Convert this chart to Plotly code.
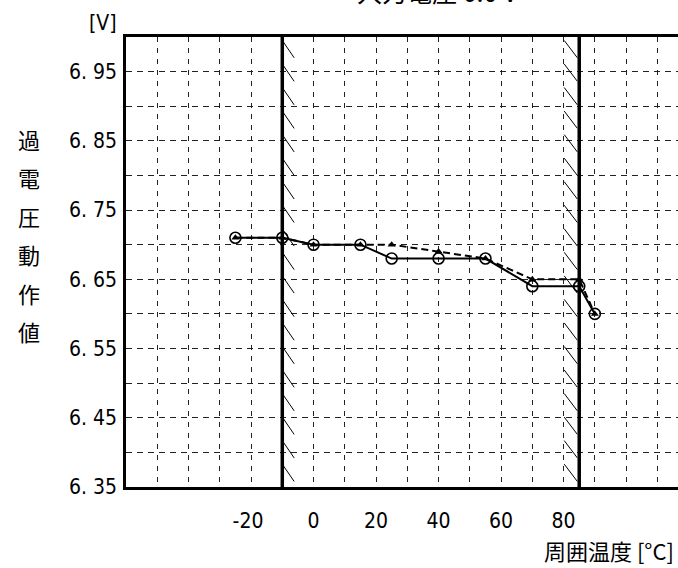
import plotly.graph_objects as go

# ---- data ----
temp_a = [-25, -10, 0, 15, 25, 40, 55, 70, 85, 90]
volt_a = [6.71, 6.71, 6.70, 6.70, 6.68, 6.68, 6.68, 6.64, 6.64, 6.60]

temp_b = [-25, -10, 0, 15, 25, 40, 55, 70, 85, 90]
volt_b = [6.71, 6.71, 6.70, 6.70, 6.70, 6.69, 6.68, 6.65, 6.65, 6.60]

x_grid_vals = [-50, -40, -30, -20, 0, 10, 20, 30, 40, 50, 60, 70, 80, 90, 100, 110]
x_tick_labels = {-20: "-20\u00a0", 0: "0", 20: "20", 40: "40", 60: "60", 80: "80"}
y_grid_vals = [6.35, 6.40, 6.45, 6.50, 6.55, 6.60, 6.65, 6.70, 6.75, 6.80, 6.85, 6.90, 6.95]
y_tick_labels = {6.35: "6. 35", 6.45: "6. 45", 6.55: "6. 55", 6.65: "6. 65",
                 6.75: "6. 75", 6.85: "6. 85", 6.95: "6. 95"}

limit_lines = [-10, 85]
hatch_bands = [(-10, -6.2), (80.2, 84.4)]

y_title_chars = ["過", "電", "圧", "動", "作", "値"]

X_RANGE = [-60, 116.6]
Y_RANGE = [6.35, 7.0]

fig = go.Figure()

# hatching near limit lines
hx, hy = [], []
step = 0.034
h = 0.025
for (xa, xb) in hatch_bands:
    y = 6.995
    while y - h > 6.352:
        hx += [xa, xb, None]
        hy += [y, y - h, None]
        y -= step
fig.add_trace(go.Scatter(x=hx, y=hy, mode="lines", line=dict(color="black", width=1),
                         hoverinfo="skip", showlegend=False))

fig.add_trace(go.Scatter(x=temp_b, y=volt_b, mode="lines+markers",
                         line=dict(color="black", width=2, dash="7px,4px"),
                         marker=dict(symbol="triangle-up", size=7, color="black"),
                         showlegend=False))
fig.add_trace(go.Scatter(x=temp_a, y=volt_a, mode="lines+markers",
                         line=dict(color="black", width=2),
                         marker=dict(symbol="circle-open", size=11, color="black",
                                     line=dict(width=1.6, color="black")),
                         showlegend=False))

for xv in limit_lines:
    fig.add_shape(type="line", xref="x", yref="paper", x0=xv, x1=xv, y0=0, y1=1,
                  line=dict(color="black", width=3.5))

tick_font = dict(family="Liberation Sans Narrow, DejaVu Sans Condensed, Liberation Mono",
                 size=21, color="black")

fig.update_xaxes(range=X_RANGE, showgrid=True, gridcolor="#222", gridwidth=1, griddash="5px,6px",
                 tickvals=x_grid_vals, ticktext=[x_tick_labels.get(v, "") for v in x_grid_vals],
                 ticks="outside", ticklen=13, tickcolor="rgba(0,0,0,0)",
                 tickfont=tick_font, showline=True, linecolor="black", linewidth=2.5,
                 mirror=True, zeroline=False)
fig.update_yaxes(range=Y_RANGE, showgrid=True, gridcolor="#222", gridwidth=1, griddash="6px,5px",
                 tickvals=y_grid_vals, ticktext=[y_tick_labels.get(v, "") for v in y_grid_vals],
                 ticks="outside", ticklen=2, tickcolor="rgba(0,0,0,0)",
                 tickfont=tick_font, showline=True, linecolor="black", linewidth=2.5,
                 zeroline=False)

ann = []
ann.append(dict(text="[V]", xref="paper", yref="paper", x=-0.013, y=1.0, xanchor="right",
                yanchor="bottom", showarrow=False, font=tick_font))
for i, ch in enumerate(y_title_chars):
    ann.append(dict(text=ch, xref="paper", yref="paper", x=-0.175, xanchor="center",
                    y=1 - (139 - 37 + i * 38.4) / 450, yanchor="middle", showarrow=False,
                    font=dict(family="Noto Sans CJK JP", size=22, color="black")))
ann.append(dict(text="周囲温度 [°C]", xref="paper", yref="paper", x=0.997, xanchor="right",
                y=-0.1, yanchor="top", showarrow=False,
                font=dict(family="Noto Sans CJK JP", size=22, color="black")))
ann.append(dict(text="入力電圧 6.0 V", xref="paper", yref="paper", x=0.565, xanchor="center",
                y=1.057, yanchor="bottom", showarrow=False,
                font=dict(family="Noto Sans CJK JP", size=25, color="black")))

fig.update_layout(width=678, height=568, margin=dict(l=126, r=0, t=37, b=81),
                  paper_bgcolor="white", plot_bgcolor="white", annotations=ann)

fig.write_html("out.html", config={"displayModeBar": False},
               post_script="document.body.style.margin='0';")
